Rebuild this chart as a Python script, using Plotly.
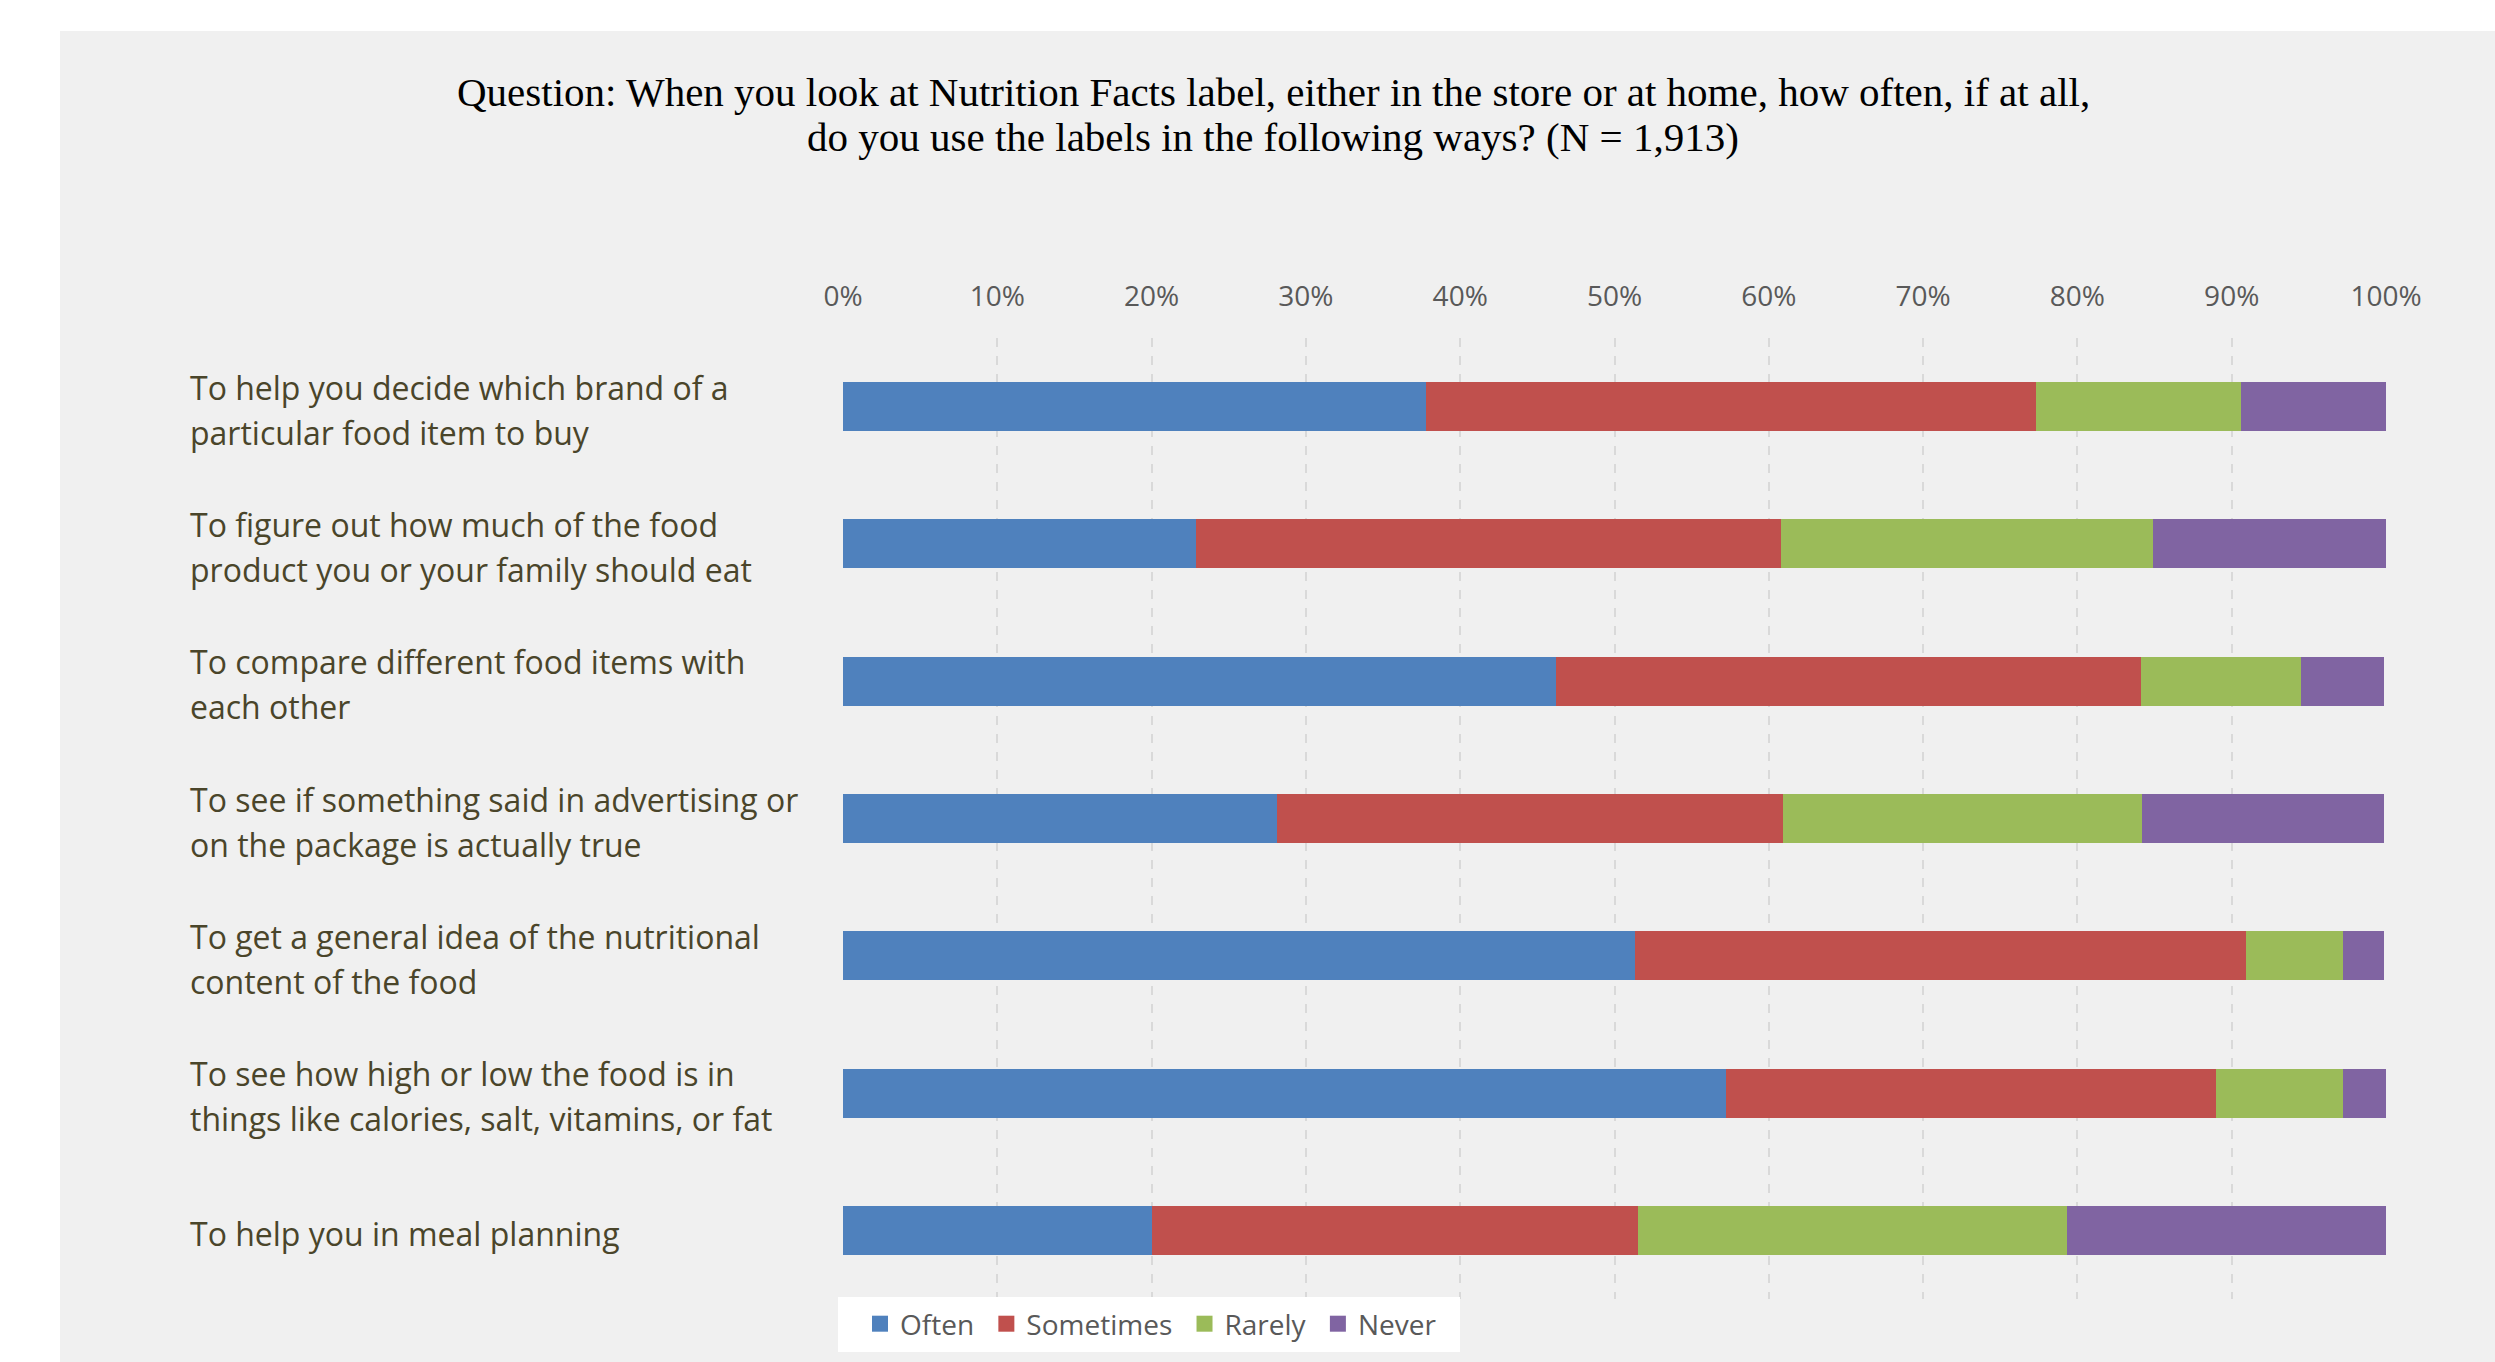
import plotly.graph_objects as go

categories = [
    "To help you decide which brand of a<br>particular food item to buy",
    "To figure out how much of the food<br>product you or your family should eat",
    "To compare different food items with<br>each other",
    "To see if something said in advertising or<br>on the package is actually true",
    "To get a general idea of the nutritional<br>content of the food",
    "To see how high or low the food is in<br>things like calories, salt, vitamins, or fat",
    "To help you in meal planning",
]
series_names = ["Often", "Sometimes", "Rarely", "Never"]
often = [37.8, 22.9, 46.2, 28.1, 51.3, 57.2, 20.0]
sometimes = [39.5, 37.9, 37.9, 32.8, 39.6, 31.8, 31.5]
rarely = [13.3, 24.1, 10.4, 23.3, 6.3, 8.2, 27.8]
never = [9.4, 15.1, 5.4, 15.7, 2.7, 2.8, 20.7]
colors = ["#4F81BD", "#C0504D", "#9BBB59", "#8064A2"]
tick_vals = [0, 10, 20, 30, 40, 50, 60, 70, 80, 90, 100]
tick_text = ["0%", "10%", "20%", "30%", "40%", "50%", "60%", "70%", "80%", "90%", "100%"]
title_lines = [
    "Question: When you look at Nutrition Facts label, either in the store or at home, how often, if at all,",
    "do you use the labels in the following ways? (N = 1,913)",
]

W, H = 2495, 1362
L, R, T, B = 843, 2386, 338, 1299
PANEL = "#f0f0f0"


def px_x(p):
    return (p - L) / (R - L)


def px_y(p):
    return (B - p) / (B - T)


fig = go.Figure()
for name, vals, col in zip(series_names, [often, sometimes, rarely, never], colors):
    fig.add_trace(go.Bar(
        y=categories, x=vals, name=name, orientation="h",
        marker=dict(color=col, line=dict(width=0)), width=0.357,
        showlegend=False, legendgroup=name,
    ))
# legend entries with larger square swatches
for name, col in zip(series_names, colors):
    fig.add_trace(go.Scatter(
        x=[None], y=[None], mode="markers", name=name + "\u00a0", legendgroup=name,
        marker=dict(symbol="square", size=17, color=col), showlegend=True,
    ))

# gray panel
fig.add_shape(type="rect", xref="paper", yref="paper",
              x0=px_x(60), x1=px_x(W) + 0.01,
              y0=px_y(H) - 0.01, y1=px_y(31),
              fillcolor=PANEL, line=dict(width=0), layer="below")
# white legend box
fig.add_shape(type="rect", xref="paper", yref="paper",
              x0=px_x(838), x1=px_x(1460), y0=px_y(1352), y1=px_y(1297),
              fillcolor="white", line=dict(width=0), layer="above")

annotations = []
# title, one annotation per line
for yc, ln in zip([92, 137], title_lines):
    annotations.append(dict(
        xref="paper", yref="paper", x=px_x(1273), y=px_y(yc),
        xanchor="center", yanchor="middle", showarrow=False, text=ln,
        font=dict(family="Liberation Serif", size=41, color="black"),
    ))
for i, cat in enumerate(categories):
    lines = cat.split("<br>")
    n = len(lines)
    for j, ln in enumerate(lines):
        annotations.append(dict(
            xref="paper", yref="y", x=px_x(188), y=i,
            xanchor="left", yanchor="middle", showarrow=False,
            text=ln, yshift=-((j - (n - 1) / 2) * 45) - 3,
            font=dict(family="Open Sans", size=32, color="#4a452a"),
        ))

fig.update_layout(
    width=W, height=H,
    margin=dict(l=L, r=W - R, t=T, b=H - B, pad=0),
    paper_bgcolor="white", plot_bgcolor="rgba(0,0,0,0)",
    barmode="stack", showlegend=True,
    xaxis=dict(side="top", range=[0, 100], tickvals=tick_vals, ticktext=tick_text,
               showgrid=True, gridcolor="#d9d9d9", gridwidth=1.5, griddash="dash",
               zeroline=False, showline=False,
               ticks="outside", ticklen=20, tickcolor="rgba(0,0,0,0)",
               tickfont=dict(family="Open Sans", size=28, color="#595959")),
    yaxis=dict(categoryorder="array", categoryarray=categories, autorange="reversed",
               showticklabels=False, showgrid=False, zeroline=False, showline=False),
    legend=dict(orientation="h", x=px_x(860), y=px_y(1324), xanchor="left", yanchor="middle",
                bgcolor="rgba(0,0,0,0)", borderwidth=0, itemsizing="trace",
                font=dict(family="Open Sans", size=28, color="#595959"),
                traceorder="normal"),
    annotations=annotations,
)

fig.write_html("out.html")
